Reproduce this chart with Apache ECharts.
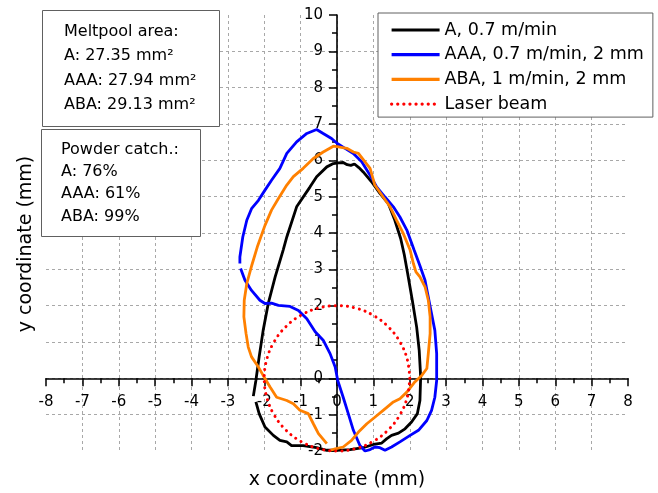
<!DOCTYPE html>
<html>
<head>
<meta charset="utf-8">
<script src="https://cdn.jsdelivr.net/npm/echarts@6/dist/echarts.min.js"></script>
<style>html,body{margin:0;padding:0;background:#fff}#c{width:658px;height:493px}</style>
</head>
<body>
<div id="c"></div>
<script>
var FONT = 'DejaVu Sans';
var xTicks = [-8,-7,-6,-5,-4,-3,-2,-1,0,1,2,3,4,5,6,7,8];
var yTicks = [-2,-1,0,1,2,3,4,5,6,7,8,9,10];
var seriesNames = ['A, 0.7 m/min', 'AAA, 0.7 m/min, 2 mm', 'ABA, 1 m/min, 2 mm', 'Laser beam'];
var seriesColors = ['#000000', '#0000ff', '#ff8000', '#ff0000'];

var curveA = [[-2.23,-0.65],[-2.14,-0.97],[-1.98,-1.34],[-1.75,-1.57],[-1.57,-1.71],[-1.38,-1.75],[-1.25,-1.85],[-0.93,-1.85],[-0.56,-1.91],[-0.28,-1.98],[0,-1.98],[0.36,-1.96],[0.72,-1.91],[1.00,-1.82],[1.23,-1.78],[1.37,-1.66],[1.50,-1.57],[1.69,-1.51],[1.87,-1.39],[2.05,-1.20],[2.21,-0.97],[2.28,-0.61],[2.30,0.04],[2.26,0.77],[2.19,1.41],[2.07,2.15],[1.94,2.90],[1.85,3.40],[1.75,3.85],[1.59,4.35],[1.41,4.81],[1.18,5.09],[0.95,5.41],[0.72,5.68],[0.60,5.80],[0.48,5.90],[0.38,5.86],[0.28,5.88],[0.17,5.94],[0.04,5.93],[-0.10,5.91],[-0.28,5.82],[-0.56,5.55],[-0.74,5.27],[-1.11,4.72],[-1.38,3.89],[-1.48,3.53],[-1.70,2.79],[-1.89,2.06],[-2.03,1.32],[-2.14,0.59],[-2.23,-0.06],[-2.30,-0.49]];

var curveAAA = [[-2.65,3.02],[-2.53,2.70],[-2.35,2.42],[-2.12,2.15],[-1.98,2.06],[-1.80,2.07],[-1.61,2.01],[-1.29,1.98],[-1.06,1.87],[-0.83,1.64],[-0.60,1.28],[-0.38,1.05],[-0.19,0.68],[-0.05,0.31],[0.02,-0.06],[0.17,-0.52],[0.31,-0.97],[0.45,-1.43],[0.63,-1.85],[0.77,-2.0],[0.91,-1.96],[1.04,-1.89],[1.18,-1.91],[1.32,-1.98],[1.50,-1.89],[1.73,-1.75],[2.01,-1.57],[2.24,-1.43],[2.47,-1.16],[2.60,-0.88],[2.69,-0.52],[2.74,-0.06],[2.74,0.68],[2.69,1.32],[2.60,1.78],[2.51,2.24],[2.42,2.70],[2.28,3.10],[2.12,3.53],[1.92,4.08],[1.73,4.44],[1.55,4.72],[1.32,4.99],[1.09,5.27],[0.91,5.59],[0.68,5.96],[0.45,6.19],[0.22,6.33],[0,6.47],[-0.15,6.60],[-0.38,6.74],[-0.56,6.85],[-0.83,6.74],[-1.11,6.51],[-1.38,6.19],[-1.57,5.78],[-1.80,5.45],[-1.98,5.18],[-2.16,4.90],[-2.35,4.67],[-2.48,4.35],[-2.59,3.89],[-2.67,3.34],[-2.67,3.16]];

var curveABA = [[-0.19,-1.98],[-0.05,-1.94],[0.17,-1.89],[0.40,-1.71],[0.59,-1.48],[0.82,-1.25],[1.04,-1.07],[1.27,-0.88],[1.55,-0.65],[1.73,-0.56],[1.92,-0.38],[2.14,-0.10],[2.33,0.08],[2.47,0.27],[2.51,0.68],[2.56,1.23],[2.56,1.69],[2.51,2.15],[2.42,2.52],[2.28,2.79],[2.17,2.93],[2.10,3.16],[2.01,3.53],[1.82,3.99],[1.64,4.35],[1.46,4.72],[1.27,4.99],[1.04,5.32],[0.91,5.78],[0.77,5.96],[0.59,6.19],[0.45,6.23],[0.27,6.33],[0.04,6.37],[-0.10,6.39],[-0.38,6.23],[-0.65,6.05],[-0.93,5.78],[-1.20,5.55],[-1.38,5.32],[-1.61,4.95],[-1.80,4.63],[-1.98,4.21],[-2.18,3.65],[-2.34,3.12],[-2.48,2.61],[-2.55,2.15],[-2.56,1.69],[-2.50,1.23],[-2.44,0.86],[-2.35,0.59],[-2.16,0.31],[-2.03,0.08],[-1.84,-0.24],[-1.66,-0.52],[-1.38,-0.61],[-1.20,-0.70],[-1.02,-0.88],[-0.79,-0.97],[-0.65,-1.25],[-0.51,-1.52],[-0.28,-1.80]];

var laserBeam = [[2,0],[1.932,0.518],[1.732,1.0],[1.414,1.414],[1.0,1.732],[0.518,1.932],[0,2],[-0.518,1.932],[-1.0,1.732],[-1.414,1.414],[-1.732,1.0],[-1.932,0.518],[-2,0],[-1.932,-0.518],[-1.732,-1.0],[-1.414,-1.414],[-1.0,-1.732],[-0.518,-1.932],[0,-2],[0.518,-1.932],[1.0,-1.732],[1.414,-1.414],[1.732,-1.0],[1.932,-0.518],[2,0]];

var meltpoolLines = ['Meltpool area:', 'A: 27.35 mm\u00b2', 'AAA: 27.94 mm\u00b2', 'ABA: 29.13 mm\u00b2'];
var powderLines = ['Powder catch.:', 'A: 76%', 'AAA: 61%', 'ABA: 99%'];

var GRID = {left: 46, right: 30, top: 15, bottom: 42};
var W = 658, H = 493;
var plotW = W - GRID.left - GRID.right;
var plotH = H - GRID.top - GRID.bottom;

var chart = echarts.init(document.getElementById('c'), null, {renderer: 'canvas'});

function boxText(lines, x, ys) {
  return lines.map(function (t, i) {
    return {type: 'text', x: x, y: ys[i], z: 101,
      style: {text: t, font: '16px "' + FONT + '"', fill: '#000', verticalAlign: 'middle', align: 'left'}};
  });
}

var graphics = [
  {type: 'rect', shape: {x: 42.5, y: 10.5, width: 177, height: 116}, z: 100,
   style: {fill: '#fff', stroke: '#606060', lineWidth: 1}},
  {type: 'rect', shape: {x: 41.5, y: 129.5, width: 159, height: 107}, z: 100,
   style: {fill: '#fff', stroke: '#606060', lineWidth: 1}},
  {type: 'text', x: 337, y: 480, style: {text: 'x coordinate (mm)', font: '19px "' + FONT + '"', fill: '#000', align: 'center', verticalAlign: 'middle'}},
  {type: 'text', x: 26, y: 244, rotation: Math.PI / 2, style: {text: 'y coordinate (mm)', font: '19px "' + FONT + '"', fill: '#000', align: 'center', verticalAlign: 'middle'}}
].concat(boxText(meltpoolLines, 64, [32, 56, 80.5, 105])).concat(boxText(powderLines, 61, [150, 172, 194, 217]));

function lineSeries(idx, data, extra) {
  var s = {
    name: seriesNames[idx], type: 'line', data: data, symbol: 'none', showSymbol: false,
    lineStyle: {color: seriesColors[idx], width: 2.8}, itemStyle: {color: seriesColors[idx]},
    z: 3 + idx, clip: false
  };
  if (extra) { for (var k in extra) s[k] = extra[k]; }
  return s;
}

var axisCommon = {
  type: 'value', interval: 1,
  axisLine: {onZero: false, lineStyle: {color: '#000', width: 1.6}},
  axisTick: {show: true, length: 8, lineStyle: {color: '#000', width: 1.5}},
  minorTick: {show: true, splitNumber: 2, length: 5, lineStyle: {color: '#000', width: 1.5}},
  axisLabel: {color: '#000', fontFamily: FONT, fontSize: 15},
  splitLine: {show: true, showMinLine: false, showMaxLine: false, lineStyle: {color: '#a8a8a8', type: [3, 3], width: 1}}
};

var xAxisOpt = JSON.parse(JSON.stringify(axisCommon));
xAxisOpt.min = xTicks[0]; xAxisOpt.max = xTicks[xTicks.length - 1];
xAxisOpt.axisLabel.margin = 16;
xAxisOpt.position = 'bottom';
// shift axis from the grid bottom (y = min) up to y = 0
xAxisOpt.offset = -plotH * (0 - yTicks[0]) / (yTicks[yTicks.length - 1] - yTicks[0]);

var yAxisOpt = JSON.parse(JSON.stringify(axisCommon));
yAxisOpt.min = yTicks[0]; yAxisOpt.max = yTicks[yTicks.length - 1];
yAxisOpt.axisLabel.margin = 14;
yAxisOpt.position = 'left';
// shift axis from the grid left (x = min) right to x = 0
yAxisOpt.offset = -plotW * (0 - xTicks[0]) / (xTicks[xTicks.length - 1] - xTicks[0]);

chart.setOption({
  animation: false,
  backgroundColor: '#fff',
  grid: {left: GRID.left, right: GRID.right, top: GRID.top, bottom: GRID.bottom, containLabel: false},
  xAxis: xAxisOpt,
  yAxis: yAxisOpt,
  legend: {
    orient: 'vertical', left: 378, top: 13, padding: [7, 9, 3, 12],
    itemWidth: 48, itemHeight: 14, itemGap: 4.7,
    itemStyle: {opacity: 0},
    lineStyle: {width: 3.2},
    backgroundColor: '#fff', borderColor: '#606060', borderWidth: 1,
    textStyle: {fontFamily: FONT, fontSize: 17.5, color: '#000', lineHeight: 20},
    data: seriesNames, z: 100
  },
  graphic: graphics,
  series: [
    lineSeries(0, curveA),
    lineSeries(1, curveAAA),
    lineSeries(2, curveABA),
    lineSeries(3, laserBeam, {smooth: 0.4, lineStyle: {color: seriesColors[3], width: 3, type: [0.1, 6], cap: 'round'}})
  ]
});
</script>
</body>
</html>
